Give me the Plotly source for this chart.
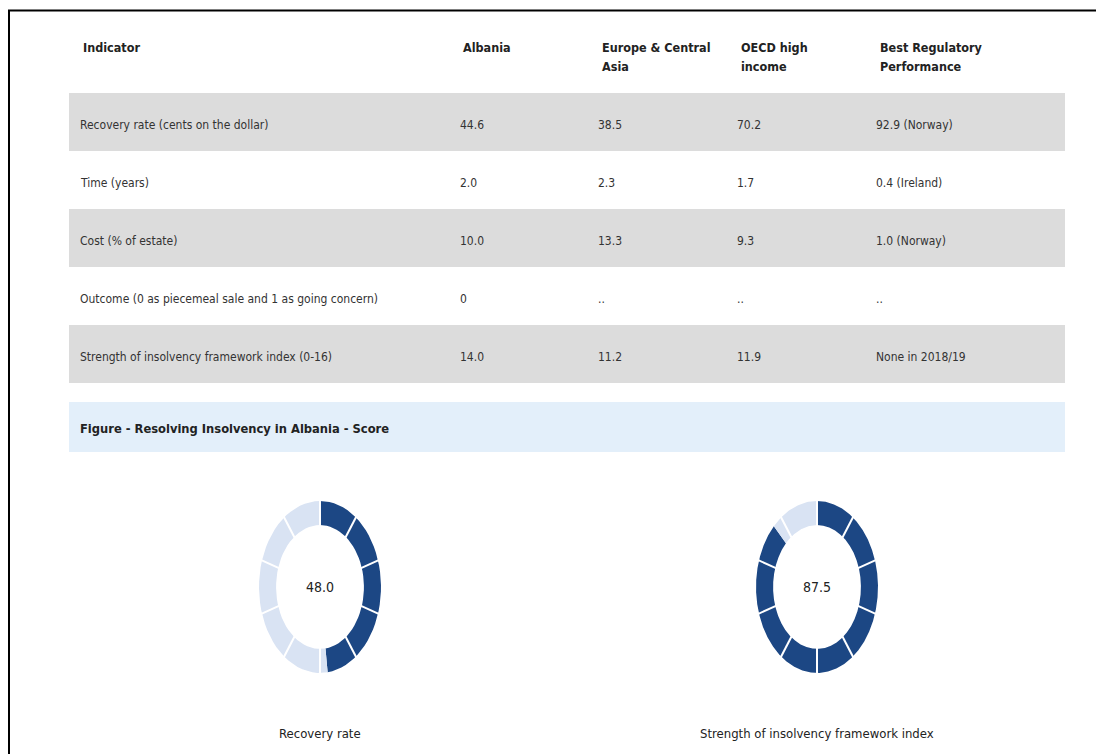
import numpy as np
import plotly.graph_objects as go

W, H = 1096, 746      # figure size; page body adds an 8 px offset
OFF = 8

# ---------------- data ----------------
header_labels = [["Indicator"], ["Albania"], ["Europe & Central", "Asia"],
                 ["OECD high", "income"], ["Best Regulatory", "Performance"]]
indicators = ["Recovery rate (cents on the dollar)", "Time (years)", "Cost (% of estate)",
              "Outcome (0 as piecemeal sale and 1 as going concern)",
              "Strength of insolvency framework index (0-16)"]
albania = ["44.6", "2.0", "10.0", "0", "14.0"]
europe_ca = ["38.5", "2.3", "13.3", "..", "11.2"]
oecd_high = ["70.2", "1.7", "9.3", "..", "11.9"]
best_perf = ["92.9 (Norway)", "0.4 (Ireland)", "1.0 (Norway)", "..", "None in 2018/19"]

figure_title = "Figure - Resolving Insolvency in Albania - Score"
score_names = ["Recovery rate", "Strength of insolvency framework index"]
score_values = [48.0, 87.5]
n_segments = 10

# ---------------- style ----------------
FONT = "DejaVu Sans Condensed, Liberation Sans Narrow, sans-serif"
TXT = "#333333"
HDR = "#222222"
DARK = "#1c4784"
LIGHT = "#d9e3f3"
ROW_GRAY = "#dcdcdc"
TITLE_BG = "#e3effa"

def px_x(x):
    return (x - OFF) / W

def px_y(y):
    return 1 - (y - OFF) / H

fig = go.Figure()
shapes = []
annotations = []

# frame lines (top and left)
shapes.append(dict(type="line", xref="paper", yref="paper", x0=px_x(8), x1=px_x(1103),
                   y0=px_y(10.5), y1=px_y(10.5), line=dict(color="black", width=2)))
shapes.append(dict(type="line", xref="paper", yref="paper", x0=px_x(9), x1=px_x(9),
                   y0=px_y(10), y1=px_y(754), line=dict(color="black", width=2)))

# table geometry
tbl_left, tbl_right = 69, 1065
row_top0, row_h = 93, 58
col_text_x = [78, 458, 596, 735, 874]
hdr_text_x = [81, 461, 600, 739, 878]
columns = [indicators, albania, europe_ca, oecd_high, best_perf]

# header
for j, lines in enumerate(header_labels):
    for k, line in enumerate(lines):
        annotations.append(dict(xref="paper", yref="paper", x=px_x(hdr_text_x[j]),
                                y=px_y(47 + 19 * k), xanchor="left", yanchor="middle",
                                text="<b>%s</b>" % line, showarrow=False,
                                font=dict(family=FONT, size=12.5, color=HDR)))

# rows
for i in range(len(indicators)):
    top = row_top0 + i * row_h
    if i % 2 == 0:
        shapes.append(dict(type="rect", xref="paper", yref="paper", layer="below",
                           x0=px_x(tbl_left), x1=px_x(tbl_right),
                           y0=px_y(top), y1=px_y(top + row_h),
                           fillcolor=ROW_GRAY, line=dict(width=0)))
    for j, col in enumerate(columns):
        annotations.append(dict(xref="paper", yref="paper", x=px_x(col_text_x[j]),
                                y=px_y(top + row_h / 2 + 3), xanchor="left", yanchor="middle",
                                text=col[i], showarrow=False,
                                font=dict(family=FONT, size=12, color=TXT)))

# figure title band
shapes.append(dict(type="rect", xref="paper", yref="paper", layer="below",
                   x0=px_x(tbl_left), x1=px_x(tbl_right), y0=px_y(402), y1=px_y(452),
                   fillcolor=TITLE_BG, line=dict(width=0)))
annotations.append(dict(xref="paper", yref="paper", x=px_x(78), y=px_y(428),
                        xanchor="left", yanchor="middle", text="<b>%s</b>" % figure_title,
                        showarrow=False, font=dict(family=FONT, size=12.8, color=HDR)))

# donuts
centers_x = [320, 817]
center_y = 587
rx, ry = 61, 86
R_OUT, R_IN = 1.0, 0.72
RANGE = 1.1

def arc_poly(f0, f1):
    t = np.linspace(f0, f1, 40)
    ang = np.pi / 2 - 2 * np.pi * t / 100.0
    xo, yo = R_OUT * np.cos(ang), R_OUT * np.sin(ang)
    xi, yi = R_IN * np.cos(ang[::-1]), R_IN * np.sin(ang[::-1])
    xs = np.concatenate([xo, xi, xo[:1]])
    ys = np.concatenate([yo, yi, yo[:1]])
    return xs, ys

for d, (name, val) in enumerate(zip(score_names, score_values)):
    ax = "" if d == 0 else str(d + 1)
    xa, ya = "x" + ax, "y" + ax
    cx = centers_x[d]
    parts = [(0, val, DARK), (val, 100, LIGHT)]
    for f0, f1, col in parts:
        if f1 <= f0:
            continue
        xs, ys = arc_poly(f0, f1)
        fig.add_trace(go.Scatter(x=xs, y=ys, fill="toself", fillcolor=col, mode="lines",
                                 line=dict(width=0, color=col), hoverinfo="skip",
                                 showlegend=False, xaxis=xa, yaxis=ya))
    gx, gy = [], []
    step = 100 / n_segments
    for k in range(n_segments):
        ang = np.pi / 2 - 2 * np.pi * (k * step) / 100.0
        gx += [0.66 * np.cos(ang), 1.05 * np.cos(ang), None]
        gy += [0.66 * np.sin(ang), 1.05 * np.sin(ang), None]
    fig.add_trace(go.Scatter(x=gx, y=gy, mode="lines", line=dict(color="white", width=2),
                             hoverinfo="skip", showlegend=False, xaxis=xa, yaxis=ya))
    dom_x = [px_x(cx - rx * RANGE), px_x(cx + rx * RANGE)]
    dom_y = [px_y(center_y + ry * RANGE), px_y(center_y - ry * RANGE)]
    axis_common = dict(showgrid=False, zeroline=False, showticklabels=False,
                       showline=False, fixedrange=True)
    fig.layout["xaxis" + ax] = dict(domain=dom_x, range=[-RANGE, RANGE], anchor=ya, **axis_common)
    fig.layout["yaxis" + ax] = dict(domain=dom_y, range=[-RANGE, RANGE], anchor=xa, **axis_common)
    annotations.append(dict(xref=xa, yref=ya, x=0, y=0, text="%.1f" % val, showarrow=False,
                            xanchor="center", yanchor="middle",
                            font=dict(family=FONT, size=14, color=HDR)))
    annotations.append(dict(xref="paper", yref="paper", x=px_x(cx), y=px_y(733),
                            xanchor="center", yanchor="middle", text=name, showarrow=False,
                            font=dict(family=FONT, size=13, color=HDR)))

fig.update_layout(width=W, height=H, margin=dict(l=0, r=0, t=0, b=0),
                  paper_bgcolor="white", plot_bgcolor="rgba(0,0,0,0)",
                  shapes=shapes, annotations=annotations, showlegend=False,
                  font=dict(family=FONT, color=TXT))

fig.write_html("out.html", config={"displayModeBar": False})
